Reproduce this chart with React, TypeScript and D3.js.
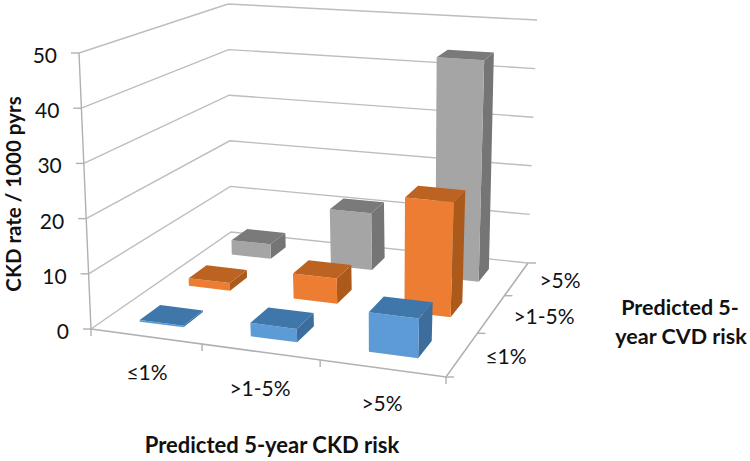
import React from "react";
import * as d3 from "d3";

const ckdCategories = ["≤1%", ">1-5%", ">5%"];
const cvdCategories = ["≤1%", ">1-5%", ">5%"];
const lowCvdValues = [0.3, 2.4, 7];
const midCvdValues = [1.5, 4.8, 21.5];
const highCvdValues = [3, 11.5, 44];
const rateTicks = [0, 10, 20, 30, 40, 50];

const seriesRows = [
  { values: lowCvdValues, top: "#3f77ab", front: "#5b9bd5", side: "#3c6d9c", row: 0 },
  { values: midCvdValues, top: "#bd6423", front: "#ed7d31", side: "#ac5a1e", row: 1 },
  { values: highCvdValues, top: "#7a7a7a", front: "#a5a5a5", side: "#747474", row: 2 },
];

type P = [number, number];

function squareToQuad(q: P[]) {
  const [[x0, y0], [x1, y1], [x2, y2], [x3, y3]] = q;
  const dx1 = x1 - x2, dx2 = x3 - x2, sx = x0 - x1 + x2 - x3;
  const dy1 = y1 - y2, dy2 = y3 - y2, sy = y0 - y1 + y2 - y3;
  const det = dx1 * dy2 - dx2 * dy1;
  const g = (sx * dy2 - dx2 * sy) / det;
  const h = (dx1 * sy - sx * dy1) / det;
  const a = x1 - x0 + g * x1, b = x3 - x0 + h * x3, c = x0;
  const d = y1 - y0 + g * y1, e = y3 - y0 + h * y3, f = y0;
  return (u: number, v: number): P => {
    const w = g * u + h * v + 1;
    return [(a * u + b * v + c) / w, (d * u + e * v + f) / w];
  };
}

// corners: front-left, front-right, back-right, back-left
const floor = squareToQuad([[91, 329], [446, 377], [528, 263], [231, 232]]);
const ceiling = squareToQuad([[79, 53], [459, 86], [537, 20], [228, 4]]);

const uScale = d3.scaleLinear().domain([0, 3]).range([0, 1]);
const vScale = d3.scaleLinear().domain([0, 3]).range([0, 1]);
const hScale = d3.scaleLinear().domain([0, 50]).range([0, 1]);

function project(u: number, v: number, h: number): P {
  const a = floor(uScale(u), vScale(v));
  const b = ceiling(uScale(u), vScale(v));
  const t = hScale(h);
  return [a[0] + (b[0] - a[0]) * t, a[1] + (b[1] - a[1]) * t];
}

const line = d3.line<P>();
const poly = (pts: P[]) => line(pts)! + "Z";

const GRID = "#bdbdbd";
const AXIS = "#b0b0b0";
const INSET = 0.3;
const INSET_V = 0.3;

export default function App() {
  return (
    <svg width={750} height={461} style={{ position: "fixed", left: 0, top: 0, background: "#fff" }}
      fontFamily="Lato, 'Open Sans', sans-serif" fill="#111">
      <defs>
        <filter id="soft" x="-5%" y="-5%" width="110%" height="110%">
          <feGaussianBlur stdDeviation="0.55" />
        </filter>
      </defs>
      <g filter="url(#soft)">
        {rateTicks.map((t) => (
          <path key={t} fill="none" stroke={GRID} strokeWidth={1.4}
            d={line([project(0, 0, t), project(0, 3, t), project(3, 3, t)])!} />
        ))}
        <path fill="none" stroke={AXIS} strokeWidth={1.4} d={line([project(0, 0, 0), project(0, 0, 50)])!} />
        <path fill="none" stroke={AXIS} strokeWidth={1.6} d={line([project(0, 0, 0), project(3, 0, 0), project(3, 3, 0)])!} />
        {rateTicks.map((t) => {
          const p = project(0, 0, t);
          return <path key={t} fill="none" stroke={AXIS} strokeWidth={1.4} d={line([p, [p[0] - 8, p[1]]])!} />;
        })}
        {d3.range(4).map((i) => {
          const p = project(i, 0, 0);
          return <path key={i} fill="none" stroke={AXIS} strokeWidth={1.4} d={line([p, [p[0], p[1] + 7]])!} />;
        })}
        {d3.range(4).map((i) => {
          const p = project(3, i, 0);
          return <path key={i} fill="none" stroke={AXIS} strokeWidth={1.4} d={line([p, [p[0] + 8, p[1]]])!} />;
        })}
        {[...seriesRows].reverse().map((s) =>
          s.values.map((val, c) => {
            const u0 = c + INSET, u1 = c + 1 - INSET;
            const v0 = s.row + INSET_V, v1 = s.row + 1 - INSET_V;
            return (
              <g key={s.row + "-" + c}>
                <path fill={s.side} d={poly([project(u1, v0, 0), project(u1, v1, 0), project(u1, v1, val), project(u1, v0, val)])} />
                <path fill={s.front} d={poly([project(u0, v0, 0), project(u1, v0, 0), project(u1, v0, val), project(u0, v0, val)])} />
                <path fill={s.top} d={poly([project(u0, v0, val), project(u1, v0, val), project(u1, v1, val), project(u0, v1, val)])} />
              </g>
            );
          })
        )}
      </g>
      {rateTicks.map((t) => {
        const p = project(0, 0, t);
        return <text key={t} x={p[0] - 22} y={p[1] + 10} textAnchor="end" fontSize={21}>{t}</text>;
      })}
      <text x={147} y={380} textAnchor="middle" fontSize={21}>{ckdCategories[0]}</text>
      <text x={260} y={396} textAnchor="middle" fontSize={21}>{ckdCategories[1]}</text>
      <text x={382} y={411} textAnchor="middle" fontSize={21}>{ckdCategories[2]}</text>
      <text x={506} y={364} textAnchor="middle" fontSize={21}>{cvdCategories[0]}</text>
      <text x={544} y={324} textAnchor="middle" fontSize={21}>{cvdCategories[1]}</text>
      <text x={560} y={288} textAnchor="middle" fontSize={21}>{cvdCategories[2]}</text>
      <text transform="translate(21,194) rotate(-90)" textAnchor="middle" fontSize={20.5} fontWeight={700}>CKD rate / 1000 pyrs</text>
      <text x={272} y={453} textAnchor="middle" fontSize={22} fontWeight={700}>Predicted 5-year CKD risk</text>
      <text x={680} y={315} textAnchor="middle" fontSize={21.5} fontWeight={700}>Predicted 5-</text>
      <text x={681} y={344} textAnchor="middle" fontSize={21.5} fontWeight={700}>year CVD risk</text>
    </svg>
  );
}
